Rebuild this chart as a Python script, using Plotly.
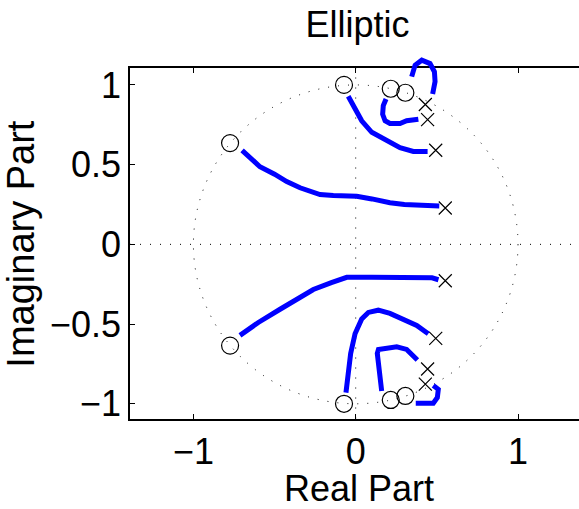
import plotly.graph_objects as go

# ---- data ----
zeros_re = [-0.774, -0.072, 0.216, 0.306, -0.774, -0.072, 0.216, 0.306]
zeros_im = [0.635, 1.000, 0.976, 0.951, -0.635, -1.000, -0.976, -0.951]
poles_re = [0.429, 0.443, 0.493, 0.552, 0.429, 0.443, 0.493, 0.552]
poles_im = [0.877, 0.782, 0.590, 0.228, -0.877, -0.782, -0.590, -0.228]

# root trajectories (upper half)
p1_re = [-0.700, -0.640, -0.590, -0.500, -0.425, -0.343, -0.220, -0.138, 0.006, 0.100, 0.211, 0.300, 0.396, 0.515]
p1_im = [0.590, 0.530, 0.487, 0.440, 0.394, 0.355, 0.312, 0.306, 0.302, 0.285, 0.261, 0.250, 0.245, 0.240]
p2_re = [-0.046, -0.025, -0.004, 0.037, 0.099, 0.191, 0.273, 0.355, 0.443]
p2_im = [0.929, 0.890, 0.846, 0.775, 0.703, 0.651, 0.606, 0.583, 0.583]
p3_re = [0.187, 0.170, 0.166, 0.181, 0.211, 0.273, 0.314, 0.386]
p3_im = [0.912, 0.870, 0.816, 0.775, 0.758, 0.758, 0.775, 0.785]
p4_re = [0.345, 0.366, 0.407, 0.458, 0.485, 0.489, 0.474]
p4_im = [1.052, 1.124, 1.155, 1.134, 1.083, 1.021, 0.943]
# root trajectories (lower half)
p5_re = [-0.713, -0.600, -0.466, -0.360, -0.261, -0.150, -0.055, 0.100, 0.300, 0.470, 0.510]
p5_im = [-0.571, -0.490, -0.407, -0.340, -0.283, -0.240, -0.207, -0.207, -0.208, -0.210, -0.222]
p6_re = [-0.060, -0.045, -0.031, -0.004, 0.037, 0.078, 0.139, 0.211, 0.293, 0.376, 0.447]
p6_im = [-0.930, -0.807, -0.684, -0.561, -0.468, -0.427, -0.413, -0.433, -0.468, -0.509, -0.561]
p7_re = [0.160, 0.150, 0.139, 0.133, 0.140, 0.181, 0.253, 0.314, 0.380]
p7_im = [-0.920, -0.848, -0.746, -0.684, -0.660, -0.653, -0.643, -0.659, -0.725]
p8_re = [0.370, 0.430, 0.478, 0.503, 0.509, 0.478]
p8_im = [-0.996, -0.998, -0.996, -0.961, -0.909, -0.885]

paths = [(p1_re, p1_im), (p2_re, p2_im), (p3_re, p3_im), (p4_re, p4_im),
         (p5_re, p5_im), (p6_re, p6_im), (p7_re, p7_im), (p8_re, p8_im)]

x_ticks = [-1, 0, 1]
x_ticktext = ["\u22121", "0", "1"]
y_ticks = [-1, -0.5, 0, 0.5, 1]
y_ticktext = ["\u22121", "\u22120.5", "0", "0.5", "1"]

W, H = 579, 509
FONT = "Liberation Sans"

fig = go.Figure()

fig.add_trace(go.Scatter(x=zeros_re, y=zeros_im, mode="markers",
                         marker=dict(symbol="circle-open", size=17, color="black",
                                     line=dict(width=1.2, color="black")),
                         xaxis="x", yaxis="y", showlegend=False))
fig.add_trace(go.Scatter(x=poles_re, y=poles_im, mode="markers",
                         marker=dict(symbol="x-thin-open", size=13, color="black",
                                     line=dict(width=1.2, color="black")),
                         xaxis="x", yaxis="y", showlegend=False))

for xs, ys in paths:
    fig.add_trace(go.Scatter(x=xs, y=ys, mode="lines",
                             line=dict(color="#0000ff", width=5),
                             xaxis="x2", yaxis="y2", showlegend=False))

# pixel geometry of the axes box
left, right, top, bottom = 130, 579, 66, 423
ppu = 162.3
x0_px, y0_px = 355.7, 245.7
xr = [(left - x0_px) / ppu, (right - x0_px) / ppu]
yr = [(y0_px - bottom) / ppu, (y0_px - top) / ppu]
xdom = [left / W, 1.0]
ydom = [1 - bottom / H, 1 - top / H]
extra = 16
ydom2 = [ydom[0], ydom[1] + extra / H]
yr2 = [yr[0], yr[1] + extra / ppu]

tick_common = dict(ticks="inside", ticklen=5, tickwidth=1, tickcolor="black",
                   showgrid=False, zeroline=False,
                   tickfont=dict(family=FONT, size=36, color="black"))

fig.update_layout(
    width=W, height=H, autosize=False,
    margin=dict(l=0, r=0, t=0, b=0),
    paper_bgcolor="white", plot_bgcolor="rgba(0,0,0,0)",
    xaxis=dict(domain=xdom, range=xr, tickvals=x_ticks, ticktext=x_ticktext,
               anchor="y", showline=True, linewidth=1.6, linecolor="black",
               mirror="ticks", **tick_common),
    yaxis=dict(domain=ydom, range=yr, tickvals=y_ticks, ticktext=y_ticktext,
               anchor="x", showline=True, linewidth=1.6, linecolor="black",
               mirror=False, **tick_common),
    yaxis3=dict(range=yr, tickvals=y_ticks, overlaying="y", side="right",
                anchor="x", showline=False, linecolor="rgba(0,0,0,0)",
                showticklabels=False, **tick_common),
    xaxis2=dict(domain=xdom, range=xr, anchor="y2", visible=False),
    yaxis2=dict(domain=ydom2, range=yr2, anchor="x2", visible=False),
    title=dict(text="Elliptic", x=357.5 / W, xanchor="center", xref="paper",
               y=1 - 22 / H, yanchor="middle", yref="paper",
               font=dict(family=FONT, size=36, color="black")),
    annotations=[
        dict(text="Real Part", x=359 / W, y=1 - 494 / H, xref="paper", yref="paper",
             xanchor="center", yanchor="middle", showarrow=False,
             font=dict(family=FONT, size=36, color="black")),
        dict(text="Imaginary Part", x=21 / W, y=1 - 245 / H, xref="paper", yref="paper",
             xanchor="center", yanchor="middle", showarrow=False, textangle=-90,
             font=dict(family=FONT, size=38, color="black")),
    ],
    shapes=[
        dict(type="circle", xref="x", yref="y", x0=-1, y0=-1, x1=1, y1=1,
             line=dict(color="black", width=1, dash="1px,9px"), layer="below"),
        dict(type="line", xref="x domain", yref="y", x0=0, x1=1, y0=0, y1=0,
             line=dict(color="black", width=1, dash="1px,9px"), layer="below"),
        dict(type="line", xref="x", yref="y domain", x0=0, x1=0, y0=0, y1=1,
             line=dict(color="black", width=1, dash="1px,9px"), layer="below"),
    ],
)

fig.write_html("out.html", config={"displayModeBar": False},
               post_script="document.body.style.margin='0';")
